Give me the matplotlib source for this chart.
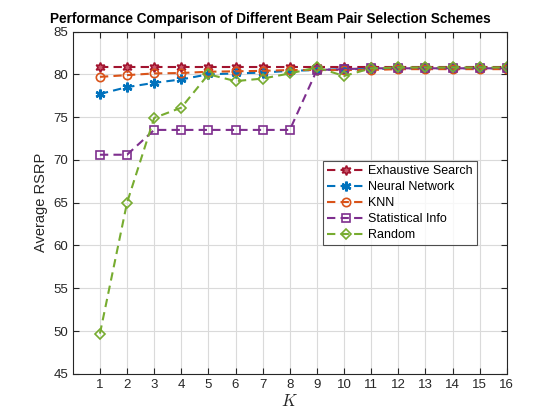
import matplotlib
matplotlib.use("Agg")
import matplotlib.pyplot as plt

plt.rcParams["font.family"] = ["Liberation Sans", "DejaVu Sans"]
plt.rcParams["mathtext.fontset"] = "cm"

k = list(range(1, 17))

exhaustive = [80.8] * 16
neural_net = [77.7, 78.5, 79.0, 79.4, 80.0, 80.1, 80.2, 80.4, 80.5, 80.6,
              80.6, 80.7, 80.7, 80.7, 80.7, 80.7]
knn = [79.7, 79.9, 80.1, 80.15, 80.3, 80.35, 80.4, 80.5, 80.5, 80.5,
       80.5, 80.6, 80.6, 80.6, 80.6, 80.6]
statistical = [70.6, 70.6, 73.5, 73.5, 73.5, 73.5, 73.5, 73.5, 80.5, 80.6,
               80.7, 80.7, 80.7, 80.7, 80.7, 80.7]
random_sel = [49.7, 65.0, 74.9, 76.1, 80.0, 79.2, 79.5, 80.1, 80.8, 79.8,
              80.7, 80.8, 80.8, 80.8, 80.8, 80.8]

# label, values, colour, marker, size, face
series = [
    ("Exhaustive Search", exhaustive, "#A2142F", (6, 1, 0), 7, "#C8566A"),
    ("Neural Network", neural_net, "#0072BD", (6, 2, 0), 7, "none"),
    ("KNN", knn, "#D95319", "o", 6, "none"),
    ("Statistical Info", statistical, "#7E2F8E", "s", 6, "none"),
    ("Random", random_sel, "#77AC30", "D", 5, "none"),
]

fig = plt.figure(figsize=(5.6, 4.2), dpi=100)
ax = fig.add_axes([0.13, 0.11, 0.775, 0.815])

for label, vals, color, marker, ms, face in series:
    ax.plot(k, vals, linestyle="--", dashes=(4, 2.5), color=color, linewidth=1.5,
            marker=marker, markersize=ms,
            markeredgewidth=1.8 if marker == (6, 2, 0) else 1.2,
            markerfacecolor=face, markeredgecolor=color, label=label)

ax.set_xlim(0, 16)
ax.set_ylim(45, 85)
ax.set_xticks(k)
ax.set_yticks(range(45, 86, 5))
ax.grid(True, color="#DADADA", linewidth=0.8)
ax.set_axisbelow(True)
ax.tick_params(direction="in", top=True, right=True, labelsize=9.5,
               length=4, colors="#262626")
for s in ax.spines.values():
    s.set_color("#262626")
    s.set_linewidth(0.8)

ax.set_title("Performance Comparison of Different Beam Pair Selection Schemes",
             fontsize=9.8, fontweight="bold", pad=6, x=0.455)
ax.set_ylabel("Average RSRP", fontsize=10.5, color="#262626")
ax.set_xlabel("$K$", fontsize=12, color="#262626", labelpad=2)

leg = ax.legend(loc="upper left", bbox_to_anchor=(0.576, 0.623), fontsize=9,
                frameon=True, fancybox=False, edgecolor="#262626",
                borderpad=0.35, labelspacing=0.32, handlelength=3.0,
                handletextpad=0.3, borderaxespad=0)
leg.get_frame().set_linewidth(0.8)

fig.savefig("out.png", dpi=100)
